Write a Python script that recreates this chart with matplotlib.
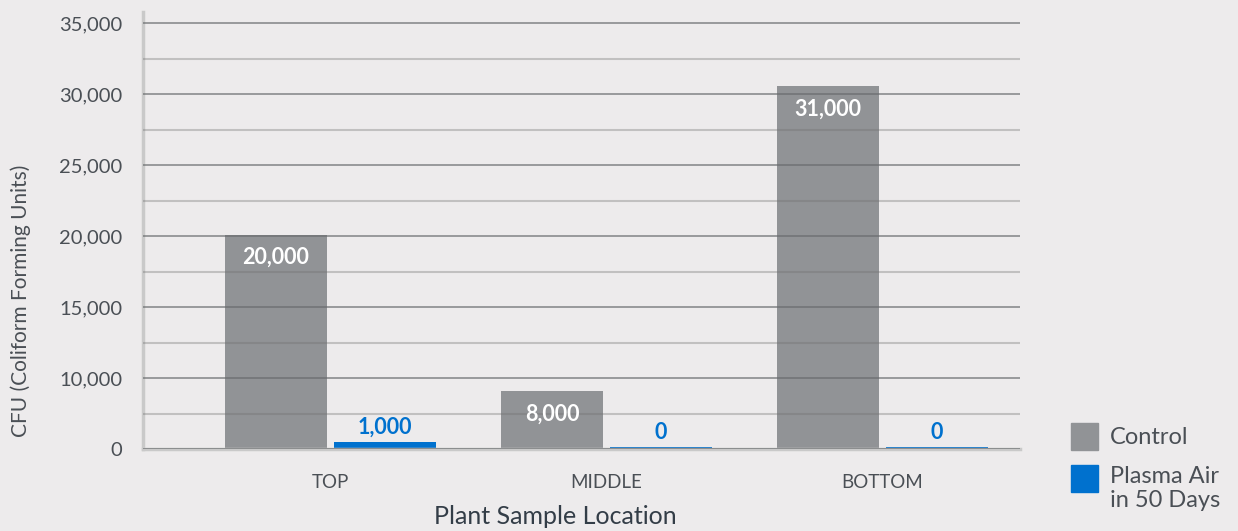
# import libraries
import matplotlib.pyplot as plt
from matplotlib.ticker import MultipleLocator, FixedLocator
from matplotlib.patches import Rectangle
import numpy as np

# data (axis units as drawn: the baseline sits at the 5,000 step labelled "0")
locations = ['TOP', 'MIDDLE', 'BOTTOM']
control = [20100, 9060, 30540]
plasma = [5470, 5150, 5150]
control_labels = ['20,000', '8,000', '31,000']
plasma_labels = ['1,000', '0', '0']
tick_values = [5000, 10000, 15000, 20000, 25000, 30000, 35000]
tick_labels = ['0', '10,000', '15,000', '20,000', '25,000', '30,000', '35,000']
baseline = 5000

bg = '#edebec'
gray = '#919396'
blue = '#0071ce'
text_col = '#4a4f55'

plt.rcParams['font.family'] = ['Lato', 'DejaVu Sans']

fig = plt.figure(figsize=(12.38, 5.31), dpi=100, facecolor=bg)
ax = fig.add_axes([0.1155, 0.1544, 0.7084, 0.823])
ax.set_facecolor(bg)

x = np.arange(len(locations))
w = 0.37
off = 0.1975

b1 = ax.bar(x - off, np.array(control) - baseline, w, bottom=baseline, color=gray, zorder=2)
b2 = ax.bar(x + off, np.array(plasma) - baseline, w, bottom=baseline, color=blue, zorder=2)

# value labels
for rect, lab in zip(b1, control_labels):
    ax.annotate(lab, (rect.get_x() + rect.get_width() / 2, rect.get_y() + rect.get_height()),
                xytext=(0, -9), textcoords='offset points', ha='center', va='top',
                color='white', fontsize=15.5, fontweight='bold', zorder=5)
for rect, lab in zip(b2, plasma_labels):
    ax.annotate(lab, (rect.get_x() + rect.get_width() / 2, rect.get_y() + rect.get_height()),
                xytext=(0, 3), textcoords='offset points', ha='center', va='bottom',
                color=blue, fontsize=15.5, fontweight='bold', zorder=5)

ax.set_xlim(-0.679, 2.498)
ax.set_ylim(baseline, 35780)

# gridlines drawn over the bars
ax.yaxis.set_major_locator(FixedLocator(tick_values))
ax.yaxis.set_minor_locator(MultipleLocator(2500))
ax.set_yticklabels(tick_labels)
ax.set_axisbelow(False)
ax.grid(axis='y', which='major', color='#67696c', alpha=0.8, linewidth=1.1, zorder=3)
ax.grid(axis='y', which='minor', color='#707070', alpha=0.35, linewidth=1.5, zorder=3)
ax.grid(axis='x', visible=False)

ax.tick_params(axis='y', which='both', length=0, pad=15, labelsize=14.5, labelcolor=text_col)
ax.tick_params(axis='x', length=0, pad=18, labelsize=13.5, labelcolor=text_col)
ax.set_xticks(x)
ax.set_xticklabels(locations)

for s in ['top', 'right']:
    ax.spines[s].set_visible(False)
ax.spines['left'].set_color('#c9c9c9')
ax.spines['left'].set_linewidth(2.5)
ax.spines['bottom'].set_color('#c9c9c9')
ax.spines['bottom'].set_linewidth(2.5)

ax.set_ylabel('CFU (Coliform Forming Units)', fontsize=15, color=text_col)
ax.yaxis.set_label_coords(-0.139, 0.34)
ax.yaxis.label.set_ha('center')
ax.yaxis.label.set_va('center')
ax.set_xlabel('Plant Sample Location', fontsize=18, color='#333d47')
ax.xaxis.set_label_coords(0.47, -0.155)
ax.xaxis.label.set_va('center')

# legend, drawn by hand so the square lines up with the first line of text
fig.patches.append(Rectangle((1071 / 1238, 1 - 450 / 531), 27 / 1238, 27 / 531,
                             transform=fig.transFigure, color=gray))
fig.patches.append(Rectangle((1071 / 1238, 1 - 492 / 531), 27 / 1238, 27 / 531,
                             transform=fig.transFigure, color=blue))
fig.text(1110 / 1238, 1 - 437 / 531, 'Control', fontsize=17, color=text_col, va='center')
fig.text(1110 / 1238, 1 - 466 / 531, 'Plasma Air\nin 50 Days', fontsize=17, color=text_col,
         va='top', linespacing=1.2)

# saving the graph
plt.savefig('out.png', dpi=100, facecolor=bg)
